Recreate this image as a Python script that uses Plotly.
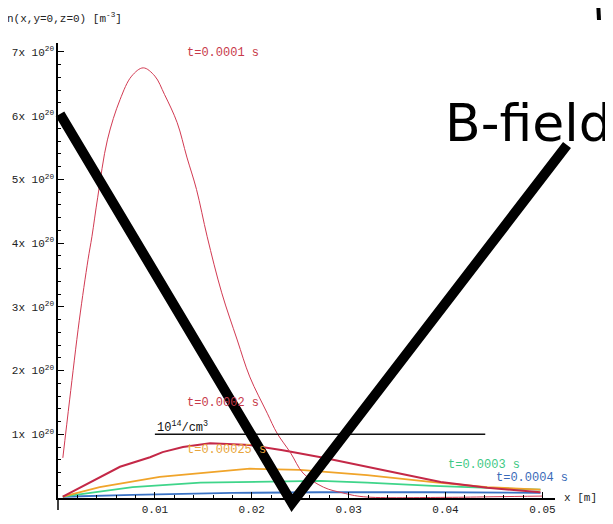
import plotly.graph_objects as go

# ---- data (x in m, n in units of 1e20 m^-3) ----
x_t1 = [0.0005, 0.0012, 0.0022, 0.0031, 0.0035, 0.0041, 0.0051, 0.0064, 0.0076, 0.0088,
        0.0100, 0.0110, 0.0123, 0.0133, 0.0143, 0.0154, 0.0169, 0.0185, 0.0198, 0.0216,
        0.0226, 0.0240, 0.0253, 0.0274, 0.0294, 0.0315, 0.0400, 0.0450, 0.0500]
n_t1 = [0.63, 1.54, 2.79, 3.74, 4.10, 4.72, 5.62, 6.25, 6.62, 6.75,
        6.62, 6.33, 5.89, 5.35, 4.84, 4.10, 3.22, 2.48, 1.90, 1.33,
        1.02, 0.71, 0.39, 0.17, 0.08, 0.02, 0.01, 0.02, 0.03]

x_t2 = [0.0005, 0.0064, 0.0095, 0.0108, 0.0129, 0.0157, 0.0198, 0.0232, 0.0274, 0.0309,
        0.0353, 0.0395, 0.0443, 0.0498]
n_t2 = [0.02, 0.49, 0.64, 0.72, 0.80, 0.86, 0.83, 0.75, 0.63, 0.52,
        0.38, 0.25, 0.16, 0.09]

x_t25 = [0.0005, 0.0043, 0.0105, 0.0147, 0.0198, 0.0250, 0.0319, 0.0387, 0.0443, 0.0498]
n_t25 = [0.02, 0.17, 0.33, 0.39, 0.46, 0.44, 0.36, 0.25, 0.17, 0.13]

x_t3 = [0.0005, 0.0077, 0.0147, 0.0209, 0.0271, 0.0319, 0.0387, 0.0498]
n_t3 = [0.02, 0.17, 0.24, 0.25, 0.27, 0.24, 0.19, 0.13]

x_t4 = [0.0005, 0.0077, 0.0180, 0.0270, 0.0387, 0.0498]
n_t4 = [0.02, 0.05, 0.08, 0.09, 0.09, 0.08]

x_ref = [0.0100, 0.0441]
n_ref = [1.0, 1.0]

y_tickvals = [1, 2, 3, 4, 5, 6, 7]
y_ticktext = [f"{v}x 10<sup>20</sup>" for v in y_tickvals]
x_tickvals = [0.01, 0.02, 0.03, 0.04, 0.05]
x_ticktext = ["0.01", "0.02", "0.03", "0.04", "0.05"]

SCALE = 1e20
MONO = "Liberation Mono"

fig = go.Figure()

def add(x, n, color, width, shape="linear"):
    fig.add_trace(go.Scatter(x=x, y=[v * SCALE for v in n], mode="lines",
                             line=dict(color=color, width=width, shape=shape),
                             showlegend=False, hoverinfo="skip"))

add(x_t4, n_t4, "#3a72c4", 1.8)
add(x_t3, n_t3, "#3fd58a", 1.8)
add(x_t25, n_t25, "#f0a42a", 1.8)
add(x_t2, n_t2, "#c42847", 2)
add(x_t1, n_t1, "#d23a52", 1, "spline")
add(x_ref, n_ref, "#111111", 1.5)

# page has an 8px body margin; compensate so the plot lands where the reference has it
OFF = 8
W, H = 613, 524
L, T = 58 - OFF, 43 - OFF
R = W - (555 - OFF)
B = H - (498 - OFF)
pw, ph = W - L - R, H - T - B

def px(xp):
    return (xp - OFF - L) / pw

def py(yp):
    return (H - B - (yp - OFF)) / ph

ann = []
def lab(text, x, y, color, size=12, xref="x", yref="y", font=MONO, xanchor="left", yanchor="middle"):
    ann.append(dict(text=text, x=x, y=y, xref=xref, yref=yref, showarrow=False,
                    xanchor=xanchor, yanchor=yanchor,
                    font=dict(family=font, size=size, color=color)))

lab("t=0.0001 s", 0.0131, 6.99e20, "#c83a4a")
lab("t=0.0002 s", 0.0131, 1.49e20, "#c83a4a")
lab("t=0.00025 s", 0.0131, 0.75e20, "#e8a53a")
lab("10<sup>14</sup>/cm<sup>3</sup>", 0.0100, 1.12e20, "#111111")
lab("t=0.0003 s", 0.0400, 0.52e20, "#3fc985")
lab("t=0.0004 s", 0.0450, 0.31e20, "#3a6ab8")
lab("x [m]", px(562), py(498), "#222222", size=11, xref="paper", yref="paper")
lab("n(x,y=0,z=0) [m<sup>-3</sup>]", px(5), py(18), "#222222", size=11,
    xref="paper", yref="paper")
lab("B-field", px(443), py(123), "#000000", size=52, xref="paper", yref="paper",
    font="DejaVu Sans")

shapes = [
    # big hand-drawn V
    dict(type="path", xref="paper", yref="paper",
         path=f"M {px(60)} {py(114)} L {px(292)} {py(503)} L {px(567)} {py(145)}",
         line=dict(color="black", width=10)),
    # small stroke at top right
    dict(type="line", xref="paper", yref="paper",
         x0=px(598), y0=py(0), x1=px(599), y1=py(20),
         line=dict(color="black", width=4)),
    # y-axis extension below zero
    dict(type="line", xref="paper", yref="paper",
         x0=0, y0=0, x1=0, y1=py(510),
         line=dict(color="black", width=1.5)),
]

fig.update_layout(
    width=W, height=H,
    margin=dict(l=L, r=R, t=T, b=B, autoexpand=False),
    paper_bgcolor="white", plot_bgcolor="white",
    annotations=ann, shapes=shapes,
    xaxis=dict(range=[0, 0.0513], showgrid=False, zeroline=False, automargin=False,
               showline=True, linecolor="black", linewidth=1.5,
               ticks="inside", ticklen=6, tickcolor="black",
               tickvals=x_tickvals, ticktext=x_ticktext,
               minor=dict(dtick=0.002, tick0=0, ticks="inside", ticklen=3, tickcolor="black"),
               tickfont=dict(family=MONO, size=11, color="#222222")),
    yaxis=dict(range=[0, 7.14e20], showgrid=False, zeroline=False, automargin=False,
               showline=True, linecolor="black", linewidth=1.5,
               ticks="inside", ticklen=6, tickcolor="black",
               tickvals=[v * SCALE for v in y_tickvals], ticktext=y_ticktext,
               minor=dict(dtick=0.2e20, tick0=0, ticks="inside", ticklen=3, tickcolor="black"),
               tickfont=dict(family=MONO, size=11, color="#222222")),
)

fig.write_html("out.html")
